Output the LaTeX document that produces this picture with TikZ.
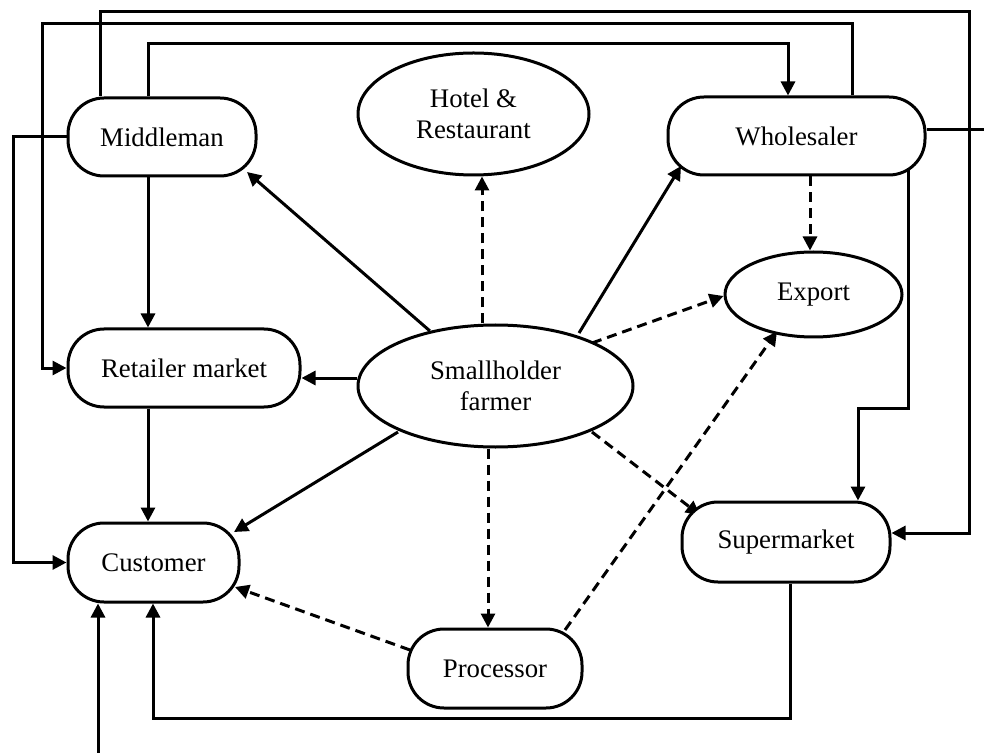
\documentclass[tikz,border=0pt]{standalone}
\usepackage{fontspec}
\setmainfont{Liberation Serif}
\usetikzlibrary{shapes.geometric,arrows.meta,calc,backgrounds}
\begin{document}
\begin{tikzpicture}[x=0.5pt,y=-0.5pt,
  every node/.style={font=\fontsize{13.4}{15.8}\selectfont},
  ln/.style={line width=1.5pt},
  pill/.style={ln,draw,fill=white,rectangle,rounded corners=18pt,inner sep=0pt},
  oval/.style={ln,draw,fill=white,ellipse,inner sep=0pt,align=center},
  arr/.style={ln,-{Triangle[length=7pt,width=7pt]}},
  dsh/.style={arr,dash pattern=on 5pt off 3pt}]
\useasboundingbox (0,0) rectangle (984,753);
% nodes
\node[pill,minimum width=94pt,minimum height=39pt] (mm) at (162,137) {Middleman};
\node[pill,minimum width=128.5pt,minimum height=39pt] (wh) at (796.5,136) {Wholesaler};
\node[pill,minimum width=116pt,minimum height=39pt] (rm) at (184,368) {Retailer market};
\node[pill,minimum width=85.5pt,minimum height=39.5pt] (cu) at (153.5,562.5) {Customer};
\node[pill,minimum width=104pt,minimum height=40pt] (sm) at (786,542) {Supermarket};
\node[pill,minimum width=87pt,minimum height=39.5pt] (pr) at (495,668.5) {Processor};
\node[oval,minimum width=115.5pt,minimum height=61pt] (ho) at (473.5,114) {Hotel \&\\Restaurant};
\node[oval,minimum width=88.5pt,minimum height=42.5pt] (ex) at (813.5,294.5) {Export};
\node[oval,minimum width=137.5pt,minimum height=61pt] (sf) at (495.5,386) {Smallholder\\farmer};
% bus levels and connector end points
\coordinate (yA) at (0,12);
\coordinate (yB) at (0,24);
\coordinate (yC) at (0,44);
\coordinate (yD) at (0,408);
\coordinate (yE) at (0,718);
\coordinate (xA) at (969,0);
\coordinate (xB) at (42,0);
\coordinate (xC) at (13,0);
\coordinate (wfree) at (984,130);
\coordinate (cfree) at (98,753);
\coordinate (mmA) at ($(mm.north)+(-14,0)$);
\coordinate (mmB) at ($(mm.north)+(-62,0)$);
\coordinate (whA) at ($(wh.north)+(-8.5,0)$);
\coordinate (whB) at ($(wh.north)+(55.5,0)$);
\coordinate (whC) at ($(wh.center)+(111.5,0)$);
\coordinate (smN) at ($(sm.north)+(72,0)$);
\coordinate (smS) at ($(sm.south)+(4,0)$);
\coordinate (cuS) at ($(cu.south)+(-0.5,0)$);
\coordinate (smE) at ($(sm.east)+(0,-9)$);
\begin{scope}[on background layer]
% orthogonal connectors
\draw[arr] ($(mm.south)+(-14,0)$) -- ($(rm.north)+(-36,0)$);
\draw[arr] ($(rm.south)+(-36,0)$) -- ($(cu.north)+(-5.5,0)$);
\draw[arr] (mmA) -- (mmA |- yC) -- (whA |- yC) -- (whA);
\draw[arr] (mmB) -- (mmB |- yA) -- (xA |- yA) -- (xA |- smE) -- (smE);
\draw[arr] (whB) -- (whB |- yB) -- (xB |- yB) -- (xB |- rm.west) -- (rm.west);
\draw[arr] (mm.west) -- (xC |- mm.west) -- (xC |- cu.west) -- (cu.west);
\draw[ln] ($(wh.east)+(0,-6)$) -- (wfree);
\draw[arr] (whC) -- (whC |- yD) -- (smN |- yD) -- (smN);
\draw[dsh] ($(wh.south)+(13.5,0)$) -- ($(ex.north)+(-3.5,0)$);
\draw[arr] (smS) -- (smS |- yE) -- (cuS |- yE) -- (cuS);
\draw[arr] (cfree) -- ($(cu.south)+(-55.5,0)$);
% radial connectors from smallholder farmer
\draw[arr] (sf.140.6) -- ($(mm.center)+(85,35)$);
\draw[dsh] ($(sf.north)+(-13.5,0)$) -- ($(ho.south)+(8.5,0)$);
\draw[arr] ($(sf.center)+(83.5,-53)$) -- ($(wh.center)+(-115.5,30)$);
\draw[dsh] ($(sf.center)+(96.5,-43)$) -- ($(ex.west)+(0,1.5)$);
\draw[arr] ($(sf.west)+(0,-8)$) -- ($(rm.east)+(0,10)$);
\draw[arr] ($(sf.center)+(-97.5,46)$) -- ($(cu.center)+(80.5,-30.5)$);
\draw[dsh] ($(sf.south)+(-7.5,0)$) -- ($(pr.north)+(-7,0)$);
\draw[dsh] ($(sf.center)+(96.5,46)$) -- ($(sm.center)+(-86,-27)$);
% processor connectors
\draw[dsh] ($(pr.center)+(70,-38.5)$) -- ($(ex.center)+(-36.5,37)$);
\draw[dsh] ($(pr.center)+(-85,-18.5)$) -- ($(cu.center)+(81.5,24.5)$);
\end{scope}
\end{tikzpicture}
\end{document}
